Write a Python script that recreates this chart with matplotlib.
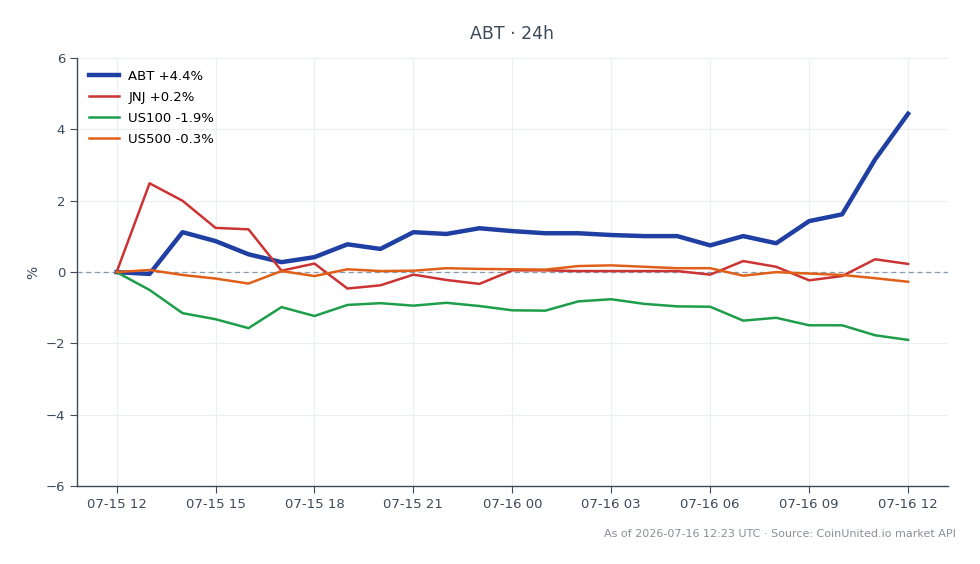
import matplotlib
matplotlib.use("Agg")
import matplotlib.pyplot as plt
import matplotlib.dates as mdates
import pandas as pd

# hourly points, 07-15 12:00 -> 07-16 12:00
times = pd.date_range("2026-07-15 12:00", "2026-07-16 12:00", freq="h")

abt = [0.0, -0.05, 1.12, 0.87, 0.50, 0.28, 0.42, 0.78, 0.65, 1.12, 1.07, 1.23, 1.15,
       1.09, 1.09, 1.04, 1.01, 1.01, 0.75, 1.01, 0.81, 1.43, 1.62, 3.16, 4.44]
jnj = [0.0, 2.49, 2.00, 1.24, 1.20, 0.04, 0.24, -0.46, -0.37, -0.07, -0.22, -0.33, 0.05,
       0.05, 0.03, 0.03, 0.03, 0.03, -0.07, 0.31, 0.15, -0.23, -0.11, 0.36, 0.23]
us100 = [0.0, -0.50, -1.15, -1.32, -1.57, -0.98, -1.23, -0.92, -0.87, -0.94, -0.86, -0.95, -1.07,
         -1.08, -0.82, -0.76, -0.89, -0.96, -0.97, -1.36, -1.28, -1.49, -1.49, -1.77, -1.90]
us500 = [0.0, 0.06, -0.08, -0.18, -0.32, 0.03, -0.11, 0.08, 0.03, 0.04, 0.11, 0.09, 0.08,
         0.07, 0.17, 0.19, 0.15, 0.11, 0.11, -0.10, 0.0, -0.04, -0.08, -0.17, -0.27]

series = [
    ("ABT +4.4%", abt, "#1f3fa3", 3.2),
    ("JNJ +0.2%", jnj, "#cc3333", 1.8),
    ("US100 -1.9%", us100, "#1e9e4a", 1.8),
    ("US500 -0.3%", us500, "#e0601a", 1.8),
]

fig = plt.figure(figsize=(9.8, 5.64), dpi=100)
ax = fig.add_axes([0.0786, 0.138, 0.8884, 0.759])

for label, vals, color, lw in series:
    ax.plot(times, vals, color=color, linewidth=lw, label=label)

# zero reference line, above the grid but below the series
ax.axhline(0, color="#8a9aad", linewidth=0.9, linestyle=(0, (4, 3)), zorder=1.5)

ax.set_ylim(-6, 6)
ax.set_yticks([-6, -4, -2, 0, 2, 4, 6])
ax.set_yticklabels(["\u22126", "\u22124", "\u22122", "0", "2", "4", "6"])
ax.xaxis.set_major_locator(mdates.HourLocator(byhour=range(0, 24, 3)))
ax.xaxis.set_major_formatter(mdates.DateFormatter("%m-%d %H"))

ax.grid(True, color="#eceef1", linewidth=0.8)
ax.set_axisbelow(True)
for s in ["top", "right"]:
    ax.spines[s].set_visible(False)
for s in ["left", "bottom"]:
    ax.spines[s].set_color("#3c4a5a")
    ax.spines[s].set_linewidth(1.0)
ax.tick_params(colors="#3c4a5a", labelsize=9.5, length=5)

ax.set_ylabel("%", color="#3c4a5a", fontsize=10)
ax.set_title("ABT \u00b7 24h", color="#3c4a5a", fontsize=12.5, pad=14)

ax.legend(loc="upper left", frameon=False, fontsize=9.5, handlelength=2.3,
          labelspacing=0.6, borderaxespad=0.5, handletextpad=0.7)

fig.text(0.975, 0.054, "As of 2026-07-16 12:23 UTC \u00b7 Source: CoinUnited.io market API",
         ha="right", va="center", fontsize=8, color="#8a9099")

fig.savefig("out.png", dpi=100)
